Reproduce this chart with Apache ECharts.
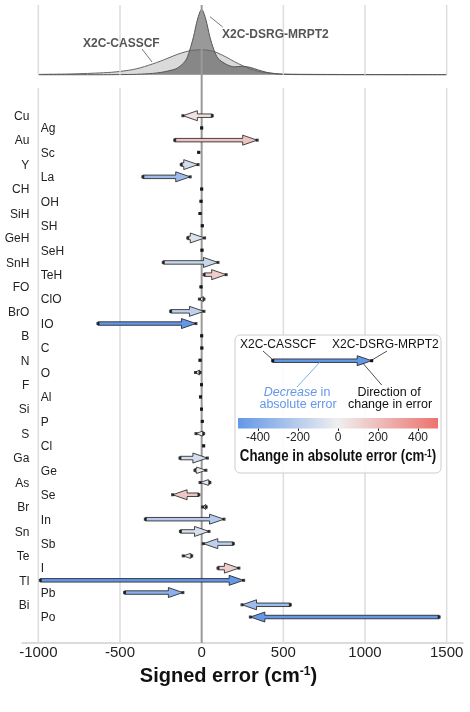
<!DOCTYPE html>
<html>
<head>
<meta charset="utf-8">
<script src="https://cdn.jsdelivr.net/npm/echarts@6/dist/echarts.min.js"></script>
<style>
  html, body { margin: 0; padding: 0; background: #fff; }
  #chart { width: 470px; height: 712px; }
</style>
</head>
<body>
<div id="chart"></div>
<script>
// one row per molecule / atom, top to bottom
const molecules = ['Cu', 'Ag', 'Au', 'Sc', 'Y', 'La', 'CH', 'OH', 'SiH', 'SH', 'GeH', 'SeH', 'SnH', 'TeH',
  'FO', 'ClO', 'BrO', 'IO', 'B', 'C', 'N', 'O', 'F', 'Al', 'Si', 'P', 'S', 'Cl', 'Ga', 'Ge', 'As', 'Se',
  'Br', 'In', 'Sn', 'Sb', 'Te', 'I', 'Tl', 'Pb', 'Bi', 'Po'];
// signed errors (cm-1)
const casscfErr = [65, 0, -165, -18, -125, -360, 0, -4, -10, 4, -85, 2, -235, 15,
  -4, 14, -190, -635, 0, 1, -10, -10, -1, -7, -1, 4, 12, 12, -133, -41, 50, -17,
  28, -345, -130, 194, -61, 100, -988, -472, 543, 1454];
const dsrgErr = [-115, 0, 340, -18, -22, -70, 0, -4, -10, 4, 18, 2, 100, 150,
  -4, -14, 14, -35, 0, 1, -10, -38, -1, -7, -1, 4, -35, 12, 35, 26, -10, -178,
  6, 137, 45, 10, -113, 228, 257, -115, 247, 298];

const xTicks = [-1000, -500, 0, 500, 1000, 1500];
const changeTicks = [-400, -200, 0, 200, 400];
const changeRange = [-500, 500];

// density curves of the signed errors (relative height)
const densityX = [-1000, -800, -600, -500, -400, -300, -250, -200, -150, -100, -75, -50, -25, 0,
  25, 50, 75, 100, 150, 200, 250, 300, 350, 400, 450, 500, 700, 1000, 1500];
const densityCasscf = [0.005, 0.012, 0.03, 0.05, 0.09, 0.165, 0.21, 0.26, 0.31, 0.35, 0.365, 0.375, 0.38, 0.38,
  0.378, 0.37, 0.355, 0.33, 0.27, 0.2, 0.14, 0.085, 0.05, 0.03, 0.018, 0.01, 0.005, 0.003, 0.002];
const densityDsrg = [0, 0, 0, 0.002, 0.006, 0.02, 0.035, 0.06, 0.1, 0.21, 0.36, 0.58, 0.85, 1.0,
  0.85, 0.58, 0.38, 0.25, 0.16, 0.12, 0.13, 0.11, 0.07, 0.035, 0.015, 0.005, 0.001, 0, 0];

const FONT = '"Liberation Sans", Arial, Helvetica, sans-serif';
const BLUE = [100, 151, 232], MID = [239, 239, 239], RED = [236, 115, 110];

function changeColor(v) {
  let t = Math.max(-1, Math.min(1, v / 500));
  const end = t < 0 ? BLUE : RED;
  t = Math.abs(t);
  const c = MID.map((m, k) => Math.round(m + (end[k] - m) * t));
  return 'rgb(' + c.join(',') + ')';
}

function arrowPoints(x0, x1, y) {
  const len = Math.abs(x1 - x0), d = x1 > x0 ? 1 : -1;
  const hl = Math.min(14.5, len * 0.85);
  const hh = Math.max(2.5, 5 * Math.min(1, len / 17));
  const sh = 1.75;
  const xb = x1 - d * hl;
  return [[x0, y - sh], [xb, y - sh], [xb, y - hh], [x1, y], [xb, y + hh], [xb, y + sh], [x0, y + sh]];
}

const topMin = -0.203, topMax = 1.066;
const rowMin = -2.265, rowMax = 43.125;

const arrowData = molecules.map((m, i) => [casscfErr[i], dsrgErr[i], i, Math.abs(dsrgErr[i]) - Math.abs(casscfErr[i])]);
const endPoints = [];
molecules.forEach((m, i) => { endPoints.push([casscfErr[i], i]); endPoints.push([dsrgErr[i], i]); });

const chart = echarts.init(document.getElementById('chart'));

const option = {
  animation: false,
  grid: [
    { left: 22, right: 7, top: 5, height: 83 },
    { left: 22, right: 7, top: 88, bottom: 69 },
    { left: 238, width: 200, top: 418, height: 10.5 }
  ],
  xAxis: [
    { gridIndex: 0, type: 'value', min: -1100, max: 1600, show: false },
    {
      gridIndex: 1, type: 'value', min: -1100, max: 1600,
      axisLine: { show: true, onZero: false, lineStyle: { color: '#cfcfcf', width: 1.5 } },
      axisTick: { show: false, customValues: xTicks },
      axisLabel: { customValues: xTicks, fontSize: 15, color: '#222', fontFamily: FONT, margin: 2, formatter: v => String(v) },
      splitLine: { show: false },
      name: 'Signed error (cm{sup|-1})',
      nameLocation: 'middle',
      nameGap: 23,
      nameTextStyle: {
        fontSize: 20, fontWeight: 'bold', color: '#111', fontFamily: FONT, padding: [0, 28, 0, 0],
        rich: { sup: { fontSize: 12, fontWeight: 'bold', fontFamily: FONT, color: '#111', verticalAlign: 'top' } }
      }
    },
    {
      gridIndex: 2, type: 'value', min: changeRange[0], max: changeRange[1], z: 10,
      axisLine: { show: false, onZero: false },
      axisTick: { show: true, customValues: changeTicks, length: 2.5, lineStyle: { color: '#222', width: 1 } },
      axisLabel: { customValues: changeTicks, fontSize: 12, color: '#222', fontFamily: FONT, margin: 3, formatter: v => String(v) },
      splitLine: { show: false }
    }
  ],
  yAxis: [
    { gridIndex: 0, type: 'value', min: topMin, max: topMax, show: false },
    { gridIndex: 1, type: 'value', min: rowMin, max: rowMax, inverse: true, show: false },
    { gridIndex: 2, type: 'value', min: 0, max: 1, show: false }
  ],
  series: [
    {
      type: 'line', xAxisIndex: 0, yAxisIndex: 0, z: 2,
      data: densityX.map((x, k) => [x, densityCasscf[k]]),
      smooth: 0.3, symbol: 'none',
      lineStyle: { color: '#666', width: 1 },
      areaStyle: { color: '#dadada', opacity: 1 }
    },
    {
      type: 'line', xAxisIndex: 0, yAxisIndex: 0, z: 2,
      data: densityX.map((x, k) => [x, densityDsrg[k]]),
      smooth: 0.3, symbol: 'none',
      lineStyle: { color: '#555', width: 1 },
      areaStyle: { color: 'rgba(60,60,60,0.52)', opacity: 1 }
    },
    {
      // grid lines of the density panel
      type: 'custom', xAxisIndex: 0, yAxisIndex: 0, z: 3, silent: true,
      data: xTicks.map(v => [v]),
      renderItem: function (params, api) {
        const v = api.value(0);
        const a = api.coord([v, v === 0 ? topMin : 0]);
        const b = api.coord([v, topMax]);
        return {
          type: 'line', shape: { x1: a[0], y1: a[1], x2: b[0], y2: b[1] },
          style: { stroke: v === 0 ? '#9a9a9a' : '#dddddd', lineWidth: v === 0 ? 2 : 1.5 }
        };
      }
    },
    {
      // grid lines of the main panel
      type: 'custom', xAxisIndex: 1, yAxisIndex: 1, z: 1, silent: true,
      data: xTicks.map(v => [v]),
      renderItem: function (params, api) {
        const v = api.value(0);
        const a = api.coord([v, rowMin]);
        const b = api.coord([v, rowMax]);
        return {
          type: 'line', shape: { x1: a[0], y1: a[1], x2: b[0], y2: b[1] },
          style: { stroke: v === 0 ? '#9a9a9a' : '#dddddd', lineWidth: v === 0 ? 2 : 1.5 }
        };
      }
    },
    {
      type: 'custom', xAxisIndex: 1, yAxisIndex: 1, z: 3,
      data: arrowData,
      encode: { x: [0, 1], y: 2 },
      renderItem: function (params, api) {
        const p0 = api.coord([api.value(0), api.value(2)]);
        const p1 = api.coord([api.value(1), api.value(2)]);
        if (Math.abs(p1[0] - p0[0]) < 3) return null;
        return {
          type: 'polygon',
          shape: { points: arrowPoints(p0[0], p1[0], p0[1]) },
          style: { fill: changeColor(api.value(3)), stroke: '#1a1a1a', lineWidth: 0.8 }
        };
      }
    },
    {
      type: 'scatter', xAxisIndex: 1, yAxisIndex: 1, z: 4,
      data: endPoints, symbol: 'rect', symbolSize: 3,
      itemStyle: { color: '#111' }
    },
    {
      // row labels, alternating sides of the -1000 line
      type: 'custom', xAxisIndex: 1, yAxisIndex: 1, z: 3,
      data: molecules.map((m, i) => [xTicks[0], i]),
      renderItem: function (params, api) {
        const i = api.value(1);
        const p = api.coord([api.value(0), i]);
        const odd = i % 2 === 1;
        return {
          type: 'text', x: odd ? p[0] + 2.5 : p[0] - 9, y: p[1] + 1,
          style: {
            text: molecules[i], fill: '#222', fontSize: 12, fontFamily: FONT,
            align: odd ? 'left' : 'right', verticalAlign: 'middle'
          }
        };
      }
    },
    {
      // color bar
      type: 'custom', xAxisIndex: 2, yAxisIndex: 2, z: 10,
      data: [[changeRange[0], changeRange[1]]],
      renderItem: function (params, api) {
        const a = api.coord([api.value(0), 0]);
        const b = api.coord([api.value(1), 1]);
        return {
          type: 'rect',
          shape: { x: a[0], y: b[1], width: b[0] - a[0], height: a[1] - b[1] },
          style: {
            fill: new echarts.graphic.LinearGradient(0, 0, 1, 0, [
              { offset: 0, color: changeColor(changeRange[0]) },
              { offset: 0.5, color: changeColor(0) },
              { offset: 1, color: changeColor(changeRange[1]) }
            ])
          }
        };
      }
    }
  ],
  graphic: [
    { type: 'text', x: 83, y: 43.3, z: 6, style: { text: 'X2C-CASSCF', fill: '#555', fontSize: 12, fontWeight: 'bold', fontFamily: FONT, verticalAlign: 'middle' } },
    { type: 'line', z: 6, shape: { x1: 142, y1: 49, x2: 152, y2: 62 }, style: { stroke: '#555', lineWidth: 0.8 } },
    { type: 'text', x: 222, y: 34.3, z: 6, style: { text: 'X2C-DSRG-MRPT2', fill: '#555', fontSize: 12, fontWeight: 'bold', fontFamily: FONT, verticalAlign: 'middle' } },
    { type: 'line', z: 6, shape: { x1: 210, y1: 16.7, x2: 222.7, y2: 27 }, style: { stroke: '#555', lineWidth: 0.8 } },

    // legend box
    { type: 'rect', z: 5, shape: { x: 235, y: 335, width: 206, height: 138, r: 5 }, style: { fill: 'rgba(255,255,255,0.88)', stroke: '#cccccc', lineWidth: 1 } },
    { type: 'text', x: 240, y: 345, z: 6, style: { text: 'X2C-CASSCF', fill: '#111', fontSize: 12, fontFamily: FONT, verticalAlign: 'middle' } },
    { type: 'text', x: 332, y: 345, z: 6, style: { text: 'X2C-DSRG-MRPT2', fill: '#111', fontSize: 12, fontFamily: FONT, verticalAlign: 'middle' } },
    { type: 'polygon', z: 6, shape: { points: arrowPoints(272.7, 371.7, 360.7) }, style: { fill: changeColor(-500), stroke: '#1a1a1a', lineWidth: 0.8 } },
    { type: 'rect', z: 7, shape: { x: 271.2, y: 359.2, width: 3, height: 3 }, style: { fill: '#111' } },
    { type: 'rect', z: 7, shape: { x: 370.2, y: 359.2, width: 3, height: 3 }, style: { fill: '#111' } },
    { type: 'line', z: 6, shape: { x1: 263, y1: 351, x2: 272, y2: 359 }, style: { stroke: '#222', lineWidth: 0.8 } },
    { type: 'line', z: 6, shape: { x1: 387, y1: 351, x2: 372, y2: 360 }, style: { stroke: '#222', lineWidth: 0.8 } },
    { type: 'line', z: 6, shape: { x1: 320, y1: 362, x2: 297, y2: 387 }, style: { stroke: changeColor(-500), lineWidth: 0.8 } },
    { type: 'line', z: 6, shape: { x1: 363, y1: 363.3, x2: 381.7, y2: 385 }, style: { stroke: '#222', lineWidth: 0.8 } },
    {
      type: 'text', x: 297, y: 393, z: 6,
      style: {
        text: '{i|Decrease} in', fill: changeColor(-500), fontSize: 12.5, fontFamily: FONT, align: 'center', verticalAlign: 'middle',
        rich: { i: { fontStyle: 'italic', fontSize: 12.5, fontFamily: FONT, fill: changeColor(-500) } }
      }
    },
    { type: 'text', x: 298, y: 405, z: 6, style: { text: 'absolute error', fill: changeColor(-500), fontSize: 12.5, fontFamily: FONT, align: 'center', verticalAlign: 'middle' } },
    { type: 'text', x: 389, y: 393, z: 6, style: { text: 'Direction of', fill: '#111', fontSize: 12.5, fontFamily: FONT, align: 'center', verticalAlign: 'middle' } },
    { type: 'text', x: 390, y: 405, z: 6, style: { text: 'change in error', fill: '#111', fontSize: 12.5, fontFamily: FONT, align: 'center', verticalAlign: 'middle' } },
    {
      type: 'text', x: 338, y: 457, z: 6, scaleX: 0.83,
      style: {
        text: 'Change in absolute error (cm{sup|-1})', fill: '#111', fontSize: 16, fontWeight: 'bold', fontFamily: FONT,
        align: 'center', verticalAlign: 'middle',
        rich: { sup: { fontSize: 10, fontWeight: 'bold', fontFamily: FONT, fill: '#111', verticalAlign: 'top' } }
      }
    }
  ]
};

chart.setOption(option);
</script>
</body>
</html>
